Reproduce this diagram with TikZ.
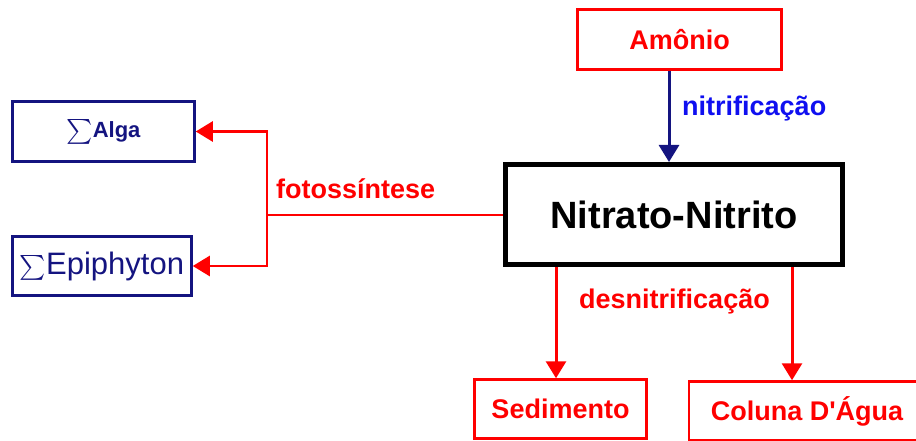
\documentclass[tikz,border=0pt]{standalone}
\usepackage{amsmath}
\usepackage{fontspec}
\usepackage{xcolor}
\usepackage{tikz}
\usetikzlibrary{calc}
\usetikzlibrary{arrows.meta}
\newfontfamily\arialfont{Liberation Sans}
\definecolor{navy}{RGB}{20,20,128}
\definecolor{brightblue}{RGB}{15,15,240}
\definecolor{purered}{RGB}{255,0,0}
\tikzstyle{redbox} = [draw=purered, text=purered, line width=2.5pt, rectangle,
inner sep=0pt, font=\arialfont\bfseries\fontsize{27}{30}\selectfont]
\tikzstyle{navybox} = [draw=navy, text=navy, line width=2.5pt, rectangle, inner sep=0pt]
\tikzstyle{mainbox} = [draw=black, line width=5pt, rectangle, inner sep=0pt,
font=\arialfont\bfseries\fontsize{38}{42}\selectfont]
\tikzstyle{flowlabel} = [inner sep=0pt, font=\arialfont\bfseries\fontsize{27}{30}\selectfont]
\tikzstyle{redarrow} = [draw=purered, line width=3pt, -{Triangle[length=17pt 0,width=20pt 0]}, purered]
\tikzstyle{navyarrow} = [draw=navy, line width=3pt, -{Triangle[length=17pt 0,width=20pt 0]}, navy]

\begin{document}
\begin{tikzpicture}[x=1pt, y=-1pt]
        \useasboundingbox (0,0) rectangle (916,441);
        \node [redbox, minimum width=204pt, minimum height=60pt] (amonio) at (679.5,39.5) {Amônio};
        \node [mainbox, minimum width=337pt, minimum height=100pt] (nitrato) at (674,214.5) {Nitrato-Nitrito};
        \node [navybox, minimum width=182pt, minimum height=60pt,
            font=\arialfont\bfseries\fontsize{22}{26}\selectfont] (alga) at (103.5,131.5)
            {{\fontsize{28}{30}\selectfont$\sum$}Alga};
        \node [navybox, minimum width=179pt, minimum height=59pt,
            font=\arialfont\fontsize{31}{34}\selectfont] (epiphyton) at (102,266) {$\sum$Epiphyton};
        \node [redbox, minimum width=172pt, minimum height=59pt] (sedimento) at (560.5,409) {Sedimento};
        \node [redbox, minimum width=236pt, minimum height=59pt] (coluna) at (807,411) {Coluna D'Água};
        \coordinate (fork) at (267,214.5);

        \draw [navyarrow] ([xshift=-10.5pt]amonio.south) -- ([xshift=-10.5pt]amonio.south |- nitrato.north);
        \draw [redarrow] ([xshift=-4.5pt]sedimento.north |- nitrato.south) -- ([xshift=-4.5pt]sedimento.north);
        \draw [redarrow] ([xshift=-15pt]coluna.north |- nitrato.south) -- ([xshift=-15pt]coluna.north);
        \draw [draw=purered, line width=2pt] (nitrato.west) -- (fork);
        \draw [redarrow, line width=2.5pt] (fork) |- (alga.east);
        \draw [redarrow, line width=2.5pt] (fork) |- (epiphyton.east);

        \node [flowlabel, text=brightblue, anchor=base west] (nitlabel) at (682,116) {nitrificação};
        \node [flowlabel, text=purered, anchor=base west] (fotolabel) at (276,198) {fotossíntese};
        \node [flowlabel, text=purered, anchor=base west] (desnitlabel) at (579,308) {desnitrificação};
    \end{tikzpicture}
\end{document}
